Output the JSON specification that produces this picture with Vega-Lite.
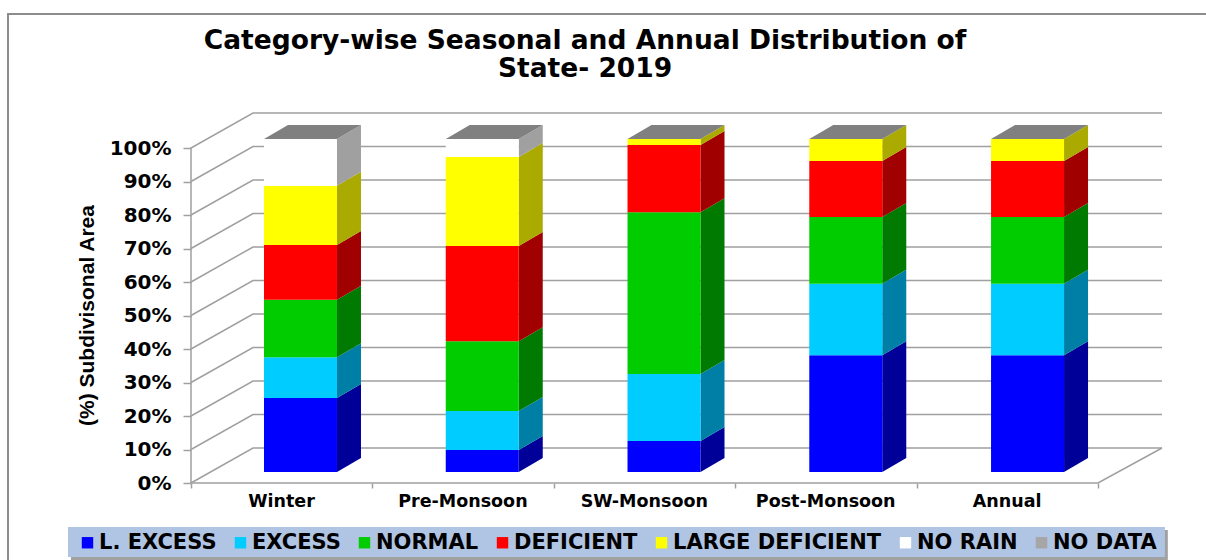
{
"$schema":"https://vega.github.io/schema/vega-lite/v6.json",
"width":1206,"height":560,"autosize":"none","padding":0,"background":"white",
"title":{"text":["Category-wise Seasonal and Annual Distribution of","State- 2019"],"font":"DejaVu Sans","fontSize":26.5,"fontWeight":"bold","color":"#000","anchor":"middle","dx":-18,"offset":-82,"lineHeight":28},
"datasets":{
"shares":[
{"season":"Winter","category":"L. EXCESS","share":22.2},{"season":"Winter","category":"EXCESS","share":12.3},{"season":"Winter","category":"NORMAL","share":17.2},{"season":"Winter","category":"DEFICIENT","share":16.5},{"season":"Winter","category":"LARGE DEFICIENT","share":17.8},{"season":"Winter","category":"NO RAIN","share":14},{"season":"Winter","category":"NO DATA","share":0},
{"season":"Pre-Monsoon","category":"L. EXCESS","share":6.6},{"season":"Pre-Monsoon","category":"EXCESS","share":11.7},{"season":"Pre-Monsoon","category":"NORMAL","share":21},{"season":"Pre-Monsoon","category":"DEFICIENT","share":28.6},{"season":"Pre-Monsoon","category":"LARGE DEFICIENT","share":26.7},{"season":"Pre-Monsoon","category":"NO RAIN","share":5.4},{"season":"Pre-Monsoon","category":"NO DATA","share":0},
{"season":"SW-Monsoon","category":"L. EXCESS","share":9.3},{"season":"SW-Monsoon","category":"EXCESS","share":20.1},{"season":"SW-Monsoon","category":"NORMAL","share":48.6},{"season":"SW-Monsoon","category":"DEFICIENT","share":20.2},{"season":"SW-Monsoon","category":"LARGE DEFICIENT","share":1.8},{"season":"SW-Monsoon","category":"NO RAIN","share":0},{"season":"SW-Monsoon","category":"NO DATA","share":0},
{"season":"Post-Monsoon","category":"L. EXCESS","share":35.1},{"season":"Post-Monsoon","category":"EXCESS","share":21.4},{"season":"Post-Monsoon","category":"NORMAL","share":20.1},{"season":"Post-Monsoon","category":"DEFICIENT","share":16.8},{"season":"Post-Monsoon","category":"LARGE DEFICIENT","share":6.6},{"season":"Post-Monsoon","category":"NO RAIN","share":0},{"season":"Post-Monsoon","category":"NO DATA","share":0},
{"season":"Annual","category":"L. EXCESS","share":35.1},{"season":"Annual","category":"EXCESS","share":21.4},{"season":"Annual","category":"NORMAL","share":20.1},{"season":"Annual","category":"DEFICIENT","share":16.8},{"season":"Annual","category":"LARGE DEFICIENT","share":6.6},{"season":"Annual","category":"NO RAIN","share":0},{"season":"Annual","category":"NO DATA","share":0}
],
"levels":[{"pct":0},{"pct":10},{"pct":20},{"pct":30},{"pct":40},{"pct":50},{"pct":60},{"pct":70},{"pct":80},{"pct":90}],
"seasons":[{"season":"Winter"},{"season":"Pre-Monsoon"},{"season":"SW-Monsoon"},{"season":"Post-Monsoon"},{"season":"Annual"}],
"one":[{"part":"decor"}]
},
"encoding":{
"x":{"field":"xu","type":"quantitative","scale":{"domain":[-1.0529,5.5954],"nice":false,"zero":false},
"axis":{"values":[0,1,2,3,4,5],"offset":-77,"domain":false,"grid":false,"title":null,"tickColor":"#A0A0A0","tickSize":5,"tickWidth":1.5,"labelFont":"DejaVu Sans","labelFontSize":17.5,"labelFontWeight":"bold","labelColor":"#000","labelOffset":90,"labelPadding":4,"labelFlush":false,"labelOverlap":false,"labelExpr":"['Winter','Pre-Monsoon','SW-Monsoon','Post-Monsoon','Annual',''][datum.value]"}},
"y":{"field":"yu","type":"quantitative","scale":{"domain":[-22.985,144.18],"nice":false,"zero":false},
"axis":{"values":[0,10,20,30,40,50,60,70,80,90,100],"offset":-191,"domain":false,"grid":false,"title":"(%) Subdivisonal Area","titleFont":"Liberation Sans","titleFontSize":21,"titleFontWeight":"bold","titleColor":"#000","titleX":-94,"titleY":315,"tickColor":"#A0A0A0","tickSize":8,"tickWidth":1.5,"labelFont":"DejaVu Sans","labelFontSize":20,"labelFontWeight":"bold","labelColor":"#000","labelPadding":12,"labelOverlap":false,"labelFlush":false,"labelExpr":"datum.value+'%'"}}
},
"layer":[
{"data":{"name":"one"},"transform":[{"calculate":"[0,1,2]","as":"t"},{"flatten":["t"]},{"calculate":"[-1.0088,-1.0088,5.5954][datum.t]","as":"xu"},{"calculate":"[-22.985,140,140][datum.t]","as":"yu"}],
 "mark":{"type":"line","stroke":"#8C8C8C","strokeWidth":2},"encoding":{"order":{"field":"t"}}},
{"data":{"name":"levels"},"transform":[{"calculate":"[0,1,2]","as":"t"},{"flatten":["t"]},{"calculate":"[0,0.3418,5.353][datum.t]","as":"xu"},{"calculate":"datum.pct+[0,10.45,10.45][datum.t]","as":"yu"}],
 "mark":{"type":"line","stroke":"#A0A0A0","strokeWidth":1.5},"encoding":{"detail":{"field":"pct"},"order":{"field":"t"}}},
{"data":{"name":"one"},"transform":[{"calculate":"[0,1,2,3]","as":"t"},{"flatten":["t"]},{"calculate":"[0,0,0.3418,5.353][datum.t]","as":"xu"},{"calculate":"[0,100,110.45,110.45][datum.t]","as":"yu"}],
 "mark":{"type":"line","stroke":"#A0A0A0","strokeWidth":1.5},"encoding":{"order":{"field":"t"}}},
{"data":{"name":"one"},"transform":[{"calculate":"[0,1,2]","as":"t"},{"flatten":["t"]},{"calculate":"[0,5,5.353][datum.t]","as":"xu"},{"calculate":"[0,0,10.45][datum.t]","as":"yu"}],
 "mark":{"type":"line","stroke":"#A0A0A0","strokeWidth":1.5},"encoding":{"order":{"field":"t"}}},
{"data":{"name":"shares"},"transform":[{"stack":"share","groupby":["season"],"as":["s0","s1"]},{"calculate":"indexof(['Winter','Pre-Monsoon','SW-Monsoon','Post-Monsoon','Annual'],datum.season)","as":"i"},{"calculate":"[0,1]","as":"t"},{"flatten":["t"]},{"calculate":"0.8048+1.002*datum.i+0.1323*datum.t","as":"xu"},{"calculate":"0.994*datum.s0+3.28+4.18*datum.t","as":"yu"},{"calculate":"0.994*datum.s1+3.28+4.18*datum.t","as":"yu2"}],
 "mark":{"type":"area","orient":"vertical"},"encoding":{"y2":{"field":"yu2"},"detail":{"field":"season"},"color":{"field":"category","type":"nominal","legend":null,"scale":{"domain":["L. EXCESS","EXCESS","NORMAL","DEFICIENT","LARGE DEFICIENT","NO RAIN","NO DATA"],"range":["#000099","#007FA6","#007A00","#A00000","#AAAA00","#A0A0A0","#666666"]}}}},
{"data":{"name":"seasons"},"transform":[{"calculate":"indexof(['Winter','Pre-Monsoon','SW-Monsoon','Post-Monsoon','Annual'],datum.season)","as":"i"},{"calculate":"[0,1]","as":"t"},{"flatten":["t"]},{"calculate":"0.4024+1.002*datum.i+0.1323*datum.t","as":"xu"},{"calculate":"datum.xu+0.4024","as":"xu2"},{"calculate":"102.68+4.18*datum.t","as":"yu"}],
 "mark":{"type":"area","orient":"horizontal","color":"#808080"},"encoding":{"x2":{"field":"xu2"},"detail":{"field":"season"}}},
{"data":{"name":"shares"},"transform":[{"stack":"share","groupby":["season"],"as":["s0","s1"]},{"calculate":"indexof(['Winter','Pre-Monsoon','SW-Monsoon','Post-Monsoon','Annual'],datum.season)","as":"i"},{"calculate":"0.4024+1.002*datum.i","as":"xu"},{"calculate":"datum.xu+0.4024","as":"xu2"},{"calculate":"0.994*datum.s0+3.28","as":"yu"},{"calculate":"0.994*datum.s1+3.28","as":"yu2"}],
 "mark":{"type":"rect"},"encoding":{"x2":{"field":"xu2"},"y2":{"field":"yu2"},"color":{"field":"category","type":"nominal","scale":{"domain":["L. EXCESS","EXCESS","NORMAL","DEFICIENT","LARGE DEFICIENT","NO RAIN","NO DATA"],"range":["#0000FF","#00CCFF","#00CC00","#FF0000","#FFFF00","#FFFFFF","#A6A6A6"]},
 "legend":{"orient":"none","legendX":77,"legendY":532,"direction":"horizontal","columns":7,"title":null,"symbolType":"square","symbolSize":130,"symbolStrokeWidth":0,"symbolOpacity":1,"labelFont":"DejaVu Sans","labelFontSize":21,"labelFontWeight":"bold","labelColor":"#000","labelLimit":400,"columnPadding":13,"labelOffset":1,"padding":0}}}},
{"data":{"name":"one"},"transform":[{"calculate":"-0.6618","as":"xu"},{"calculate":"5.385","as":"xu2"},{"calculate":"-14.03","as":"yu"},{"calculate":"-22.985","as":"yu2"}],
 "mark":{"type":"rect","fill":"#8A8A8A","opacity":0.8},"encoding":{"x2":{"field":"xu2"},"y2":{"field":"yu2"}}},
{"data":{"name":"one"},"transform":[{"calculate":"-0.678","as":"xu"},{"calculate":"5.369","as":"xu2"},{"calculate":"-13.13","as":"yu"},{"calculate":"-22.09","as":"yu2"}],
 "mark":{"type":"rect","fill":"#B0C4E4"},"encoding":{"x2":{"field":"xu2"},"y2":{"field":"yu2"}}}
],
"resolve":{"scale":{"color":"independent"}},
"config":{"view":{"stroke":null}}
}
